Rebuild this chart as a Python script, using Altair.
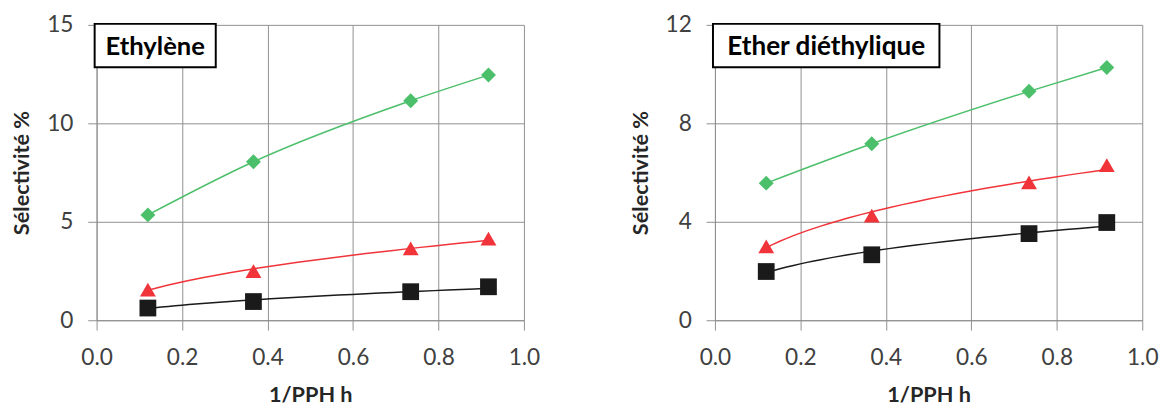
import altair as alt
import pandas as pd

x_vals = [0.12, 0.367, 0.735, 0.917]

eth_green = [5.35, 8.05, 11.15, 12.45]
eth_red = [1.55, 2.5, 3.65, 4.15]
eth_black = [0.62, 0.95, 1.45, 1.7]

ether_green = [5.57, 7.17, 9.3, 10.27]
ether_red = [3.0, 4.25, 5.6, 6.3]
ether_black = [1.98, 2.66, 3.52, 3.97]

series_names = ["vert", "rouge", "noir"]
series_colors = ["#22AA4B", "#EE1C25", "#000000"]
line_colors = ["#4CBF6A", "#F0343A", "#1a1a1a"]
series_shapes = ["diamond", "triangle-up", "square"]
series_sizes = [230, 290, 270]

FONT = "Lato"
W, H = 434, 300
GRID = "#8f8f8f"


def panel(title, green, red, black, ymax, ystep, box_w, fsize):
    rows = []
    for name, vals in zip(series_names, [green, red, black]):
        for xv, yv in zip(x_vals, vals):
            rows.append({"x": xv, "y": yv, "s": name})
    df = pd.DataFrame(rows)
    xs = alt.Scale(domain=[0, 1], nice=False, padding=0)
    ys = alt.Scale(domain=[0, ymax], nice=False, padding=0)
    xax = alt.Axis(values=[0, 0.2, 0.4, 0.6, 0.8, 1.0], format=".1f",
                   title="1/PPH h", grid=True, gridColor=GRID, labelFlush=False,
                   domainColor=GRID, tickColor=GRID, tickSize=10,
                   labelFontSize=23, labelFont=FONT, labelColor="#404040",
                   labelPadding=17, titleFont=FONT, titleFontSize=22,
                   titleFontWeight="bold", titleColor="#262626", titlePadding=16)
    yax = alt.Axis(values=list(range(0, ymax + 1, ystep)), title="Sélectivité %",
                   grid=True, gridColor=GRID, domainColor=GRID, labelFlush=False,
                   tickColor=GRID, tickSize=9, labelFontSize=23,
                   labelFont=FONT, labelColor="#404040", labelPadding=15,
                   titleFont=FONT, titleFontSize=22, titleFontWeight="bold",
                   titleColor="#262626", titlePadding=13)
    lcolor = alt.Color("s:N", scale=alt.Scale(domain=series_names, range=line_colors), legend=None)
    base = alt.Chart(df)
    fit = base.transform_filter(alt.datum.s != "vert").transform_regression(
        "x", "y", groupby=["s"], method="pow").mark_line(strokeWidth=1.5).encode(
        x=alt.X("x:Q", scale=xs, axis=xax),
        y=alt.Y("y:Q", scale=ys, axis=yax),
        color=lcolor,
    )
    smooth = base.transform_filter(alt.datum.s == "vert").mark_line(
        strokeWidth=1.5, interpolate="monotone").encode(
        x=alt.X("x:Q", scale=xs),
        y=alt.Y("y:Q", scale=ys),
        color=lcolor,
    )
    pts = base.mark_point(filled=True, opacity=1).encode(
        x=alt.X("x:Q", scale=xs),
        y=alt.Y("y:Q", scale=ys),
        color=alt.Color("s:N", scale=alt.Scale(domain=series_names, range=series_colors), legend=None),
        shape=alt.Shape("s:N", scale=alt.Scale(domain=series_names, range=series_shapes), legend=None),
        size=alt.Size("s:N", scale=alt.Scale(domain=series_names, range=series_sizes), legend=None),
    )
    tdf = pd.DataFrame({"t": [title]})
    box = alt.Chart(tdf).mark_rect(
        fill="white", stroke="black", strokeWidth=2).encode(
        x=alt.value(-2), x2=alt.value(box_w), y=alt.value(-1), y2=alt.value(43))
    txt = alt.Chart(tdf).mark_text(
        font=FONT, fontSize=fsize, fontWeight="bold", color="black",
        align="center", baseline="alphabetic").encode(
        text="t:N", x=alt.value((box_w - 2) / 2), y=alt.value(31))
    return alt.layer(fit, smooth, pts, box, txt).properties(width=W, height=H)


left = panel("Ethylène", eth_green, eth_red, eth_black, 15, 5, 121, 26)
right = panel("Ether diéthylique", ether_green, ether_red, ether_black, 12, 4, 228, 26.5)

chart = alt.hconcat(left, right, spacing=90).configure_view(stroke=None).resolve_scale(
    color="independent", shape="independent", size="independent").properties(
    padding={"left": 3, "top": 3, "right": 0, "bottom": 0})

chart.save("out.html", embed_options={"renderer": "svg", "actions": False})
